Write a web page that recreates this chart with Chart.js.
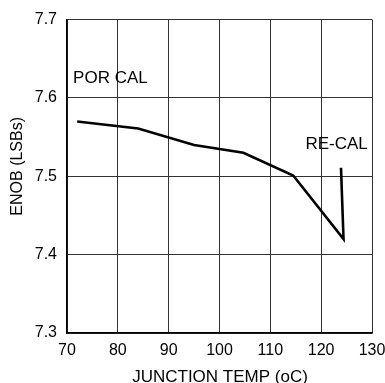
<!DOCTYPE html>
<html>
<head>
<meta charset="utf-8">
<script src="https://cdn.jsdelivr.net/npm/chart.js@4.4.1/dist/chart.umd.min.js"></script>
<style>
  body { margin: 0; background: #fff; }
  #wrap { width: 385px; height: 383px; }
</style>
</head>
<body>
<div id="wrap"><canvas id="enobChart"></canvas></div>
<script>
// temperatura de juntura (oC) y ENOB (LSBs)
var junctionTemp = [72, 84, 95, 104.7, 114.5, 124.4, 123.9];
var enobValues = [7.57, 7.561, 7.54, 7.53, 7.501, 7.42, 7.511];
var xTicks = [70, 80, 90, 100, 110, 120, 130];
var yTicks = [7.3, 7.4, 7.5, 7.6, 7.7];
var noteTexts = ['POR CAL', 'RE-CAL'];
var xTitle = 'JUNCTION TEMP (oC)';
var yTitle = 'ENOB (LSBs)';

var points = junctionTemp.map((t, i) => ({ x: t, y: enobValues[i] }));
var fontFam = '"Liberation Sans", Arial, sans-serif';

// etiquetas dentro del area y titulos de los ejes
var notesPlugin = {
    id: 'notes',
    afterDatasetsDraw(chart) {
        var ctx = chart.ctx;
        var xs = chart.scales.x, ys = chart.scales.y;
        var area = chart.chartArea;
        ctx.save();
        ctx.font = '17px ' + fontFam;
        ctx.fillStyle = '#000';
        ctx.textBaseline = 'middle';
        ctx.textAlign = 'left';
        ctx.fillText(noteTexts[0], xs.getPixelForValue(71.2), ys.getPixelForValue(7.625));
        ctx.fillText(noteTexts[1], xs.getPixelForValue(116.9), ys.getPixelForValue(7.541));

        // titulo eje x (cortado abajo como en el original)
        ctx.textAlign = 'center';
        ctx.textBaseline = 'alphabetic';
        ctx.fillText(xTitle, 220, 382);

        // titulo eje y
        ctx.font = '16px ' + fontFam;
        ctx.translate(17.5, (area.top + area.bottom) / 2 - 10);
        ctx.rotate(-Math.PI / 2);
        ctx.textBaseline = 'middle';
        ctx.fillText(yTitle, 0, 0);
        ctx.restore();
    }
};

var ctx = document.getElementById('enobChart').getContext('2d');
var enobChart = new Chart(ctx, {
    type: 'scatter',
    data: {
        datasets: [{
            label: 'ENOB',
            data: points,
            showLine: true,
            borderColor: '#000',
            borderWidth: 2.6,
            pointRadius: 0,
            tension: 0,
            fill: false
        }]
    },
    options: {
        responsive: true,
        maintainAspectRatio: false,
        animation: false,
        layout: { padding: { left: 0, right: 13, top: 18, bottom: 0 } },
        plugins: { legend: { display: false }, tooltip: { enabled: false } },
        scales: {
            x: {
                type: 'linear',
                min: 70,
                max: 130,
                afterBuildTicks: (scale) => { scale.ticks = xTicks.map(v => ({ value: v })); },
                afterFit: (scale) => {
                    scale.height = 50;
                    scale.paddingRight = 0;
                    scale.paddingLeft = 0;
                },
                ticks: {
                    color: '#000',
                    padding: 8,
                    maxRotation: 0,
                    font: { family: fontFam, size: 16 }
                },
                grid: { color: '#333', lineWidth: 1, drawTicks: false },
                border: { color: '#000', width: 1.5 }
            },
            y: {
                type: 'linear',
                min: 7.3,
                max: 7.7,
                afterBuildTicks: (scale) => { scale.ticks = yTicks.map(v => ({ value: v })); },
                afterFit: (scale) => { scale.width = 67; },
                ticks: {
                    color: '#000',
                    padding: 10,
                    callback: (v) => v.toFixed(1),
                    font: { family: fontFam, size: 16 }
                },
                grid: { color: '#333', lineWidth: 1, drawTicks: false },
                border: { color: '#000', width: 1.5 }
            }
        }
    },
    plugins: [notesPlugin]
});
</script>
</body>
</html>
